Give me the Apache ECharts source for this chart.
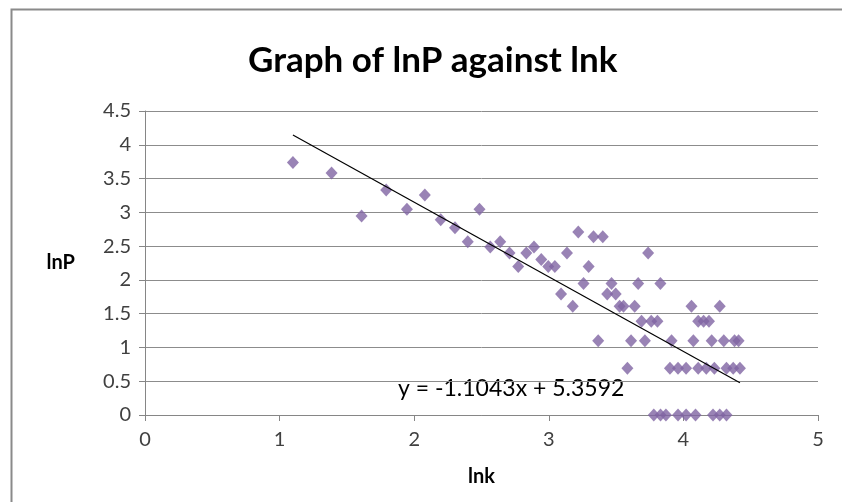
<!DOCTYPE html>
<html>
<head>
<meta charset="utf-8">
<script src="https://cdn.jsdelivr.net/npm/echarts@6/dist/echarts.min.js"></script>
<style>html,body{margin:0;padding:0;background:#fff;}#c{width:842px;height:502px;}</style>
</head>
<body>
<div id="c"></div>
<script>
// lnk values (x)
const lnk = [1.099,1.386,1.609,1.792,1.946,2.079,2.197,2.303,2.398,2.485,2.565,2.639,2.708,2.773,2.833,2.890,2.944,2.996,3.045,3.091,
 3.135,3.178,3.219,3.258,3.296,3.332,3.367,3.401,3.434,3.466,3.497,3.526,3.555,3.584,3.611,3.638,3.664,3.689,3.714,3.738,
 3.761,3.78,3.807,3.829,3.83,3.87,3.90,3.912,3.96,3.96,4.02,4.02,4.06,4.074,4.09,4.11,4.11,4.15,4.17,4.19,
 4.21,4.22,4.23,4.27,4.27,4.30,4.32,4.32,4.37,4.38,4.41,4.42];
// lnP values (y)
const lnP = [3.738,3.584,2.944,3.332,3.045,3.258,2.890,2.773,2.565,3.045,2.485,2.565,2.398,2.197,2.398,2.485,2.303,2.197,2.197,1.792,
 2.398,1.609,2.708,1.946,2.197,2.639,1.099,2.639,1.792,1.946,1.792,1.609,1.609,0.693,1.099,1.609,1.946,1.386,1.099,2.398,
 1.386,0,1.386,1.946,0,0,0.693,1.099,0.693,0,0.693,0,1.609,1.099,0,1.386,0.693,1.386,0.693,1.386,
 1.099,0,0.693,1.609,0,1.099,0,0.693,0.693,1.099,1.099,0.693];
const xTicks = [0,1,2,3,4,5];
const yTicks = [0,0.5,1,1.5,2,2.5,3,3.5,4,4.5];
const slope = -1.1043, intercept = 5.3592;
const trendX = [1.099, 4.42];

const pts = lnk.map((v,i)=>[v, lnP[i]]);
const trend = trendX.map(x=>[x, slope*x+intercept]);
const font = 'Lato';
const chart = echarts.init(document.getElementById('c'));
chart.setOption({
  animation:false,
  backgroundColor:'#fff',
  title:{text:'Graph of lnP against lnk', left:243, top:38,
    textStyle:{fontFamily:font,fontWeight:'bold',fontSize:35,color:'#000'}},
  grid:{left:145,right:24,top:111,bottom:87},
  xAxis:{type:'value',min:0,max:5,interval:1,
    name:'lnk',nameLocation:'middle',nameGap:52,
    nameTextStyle:{fontFamily:font,fontWeight:'bold',fontSize:20,color:'#000'},
    axisLine:{show:true,lineStyle:{color:'#868686',width:1}},
    axisTick:{show:true,length:6,lineStyle:{color:'#868686'}},
    axisLabel:{fontFamily:font,fontSize:20,color:'#404040',margin:15,formatter:v=>xTicks.includes(v)?String(v):''},
    splitLine:{show:false}},
  yAxis:{type:'value',min:0,max:4.5,interval:0.5,
    name:'lnP',nameLocation:'middle',nameGap:70,nameRotate:0,
    nameTextStyle:{fontFamily:font,fontWeight:'bold',fontSize:20,color:'#000'},
    axisLine:{show:true,lineStyle:{color:'#868686',width:1}},
    axisTick:{show:true,length:6,lineStyle:{color:'#868686'}},
    axisLabel:{fontFamily:font,fontSize:20,color:'#404040',margin:14,formatter:v=>String(v)},
    splitLine:{show:true,lineStyle:{color:'#8c8c8c',width:1}}},
  graphic:[
    {type:'rect',left:9,top:7,shape:{width:900,height:600},style:{fill:'none',stroke:'#8a8a8a',lineWidth:2},z:-10,silent:true},
    {type:'text',left:398,top:377,style:{text:'y = -1.1043x + 5.3592',fontFamily:font,fontSize:23,fill:'#000'}}
  ],
  series:[
    {type:'scatter',data:pts,symbol:'diamond',symbolSize:[12,13],
      itemStyle:{color:'#8064A2'}},
    {type:'line',data:trend,symbol:'none',lineStyle:{color:'#000',width:1.2},z:3}
  ]
});
</script>
</body>
</html>
